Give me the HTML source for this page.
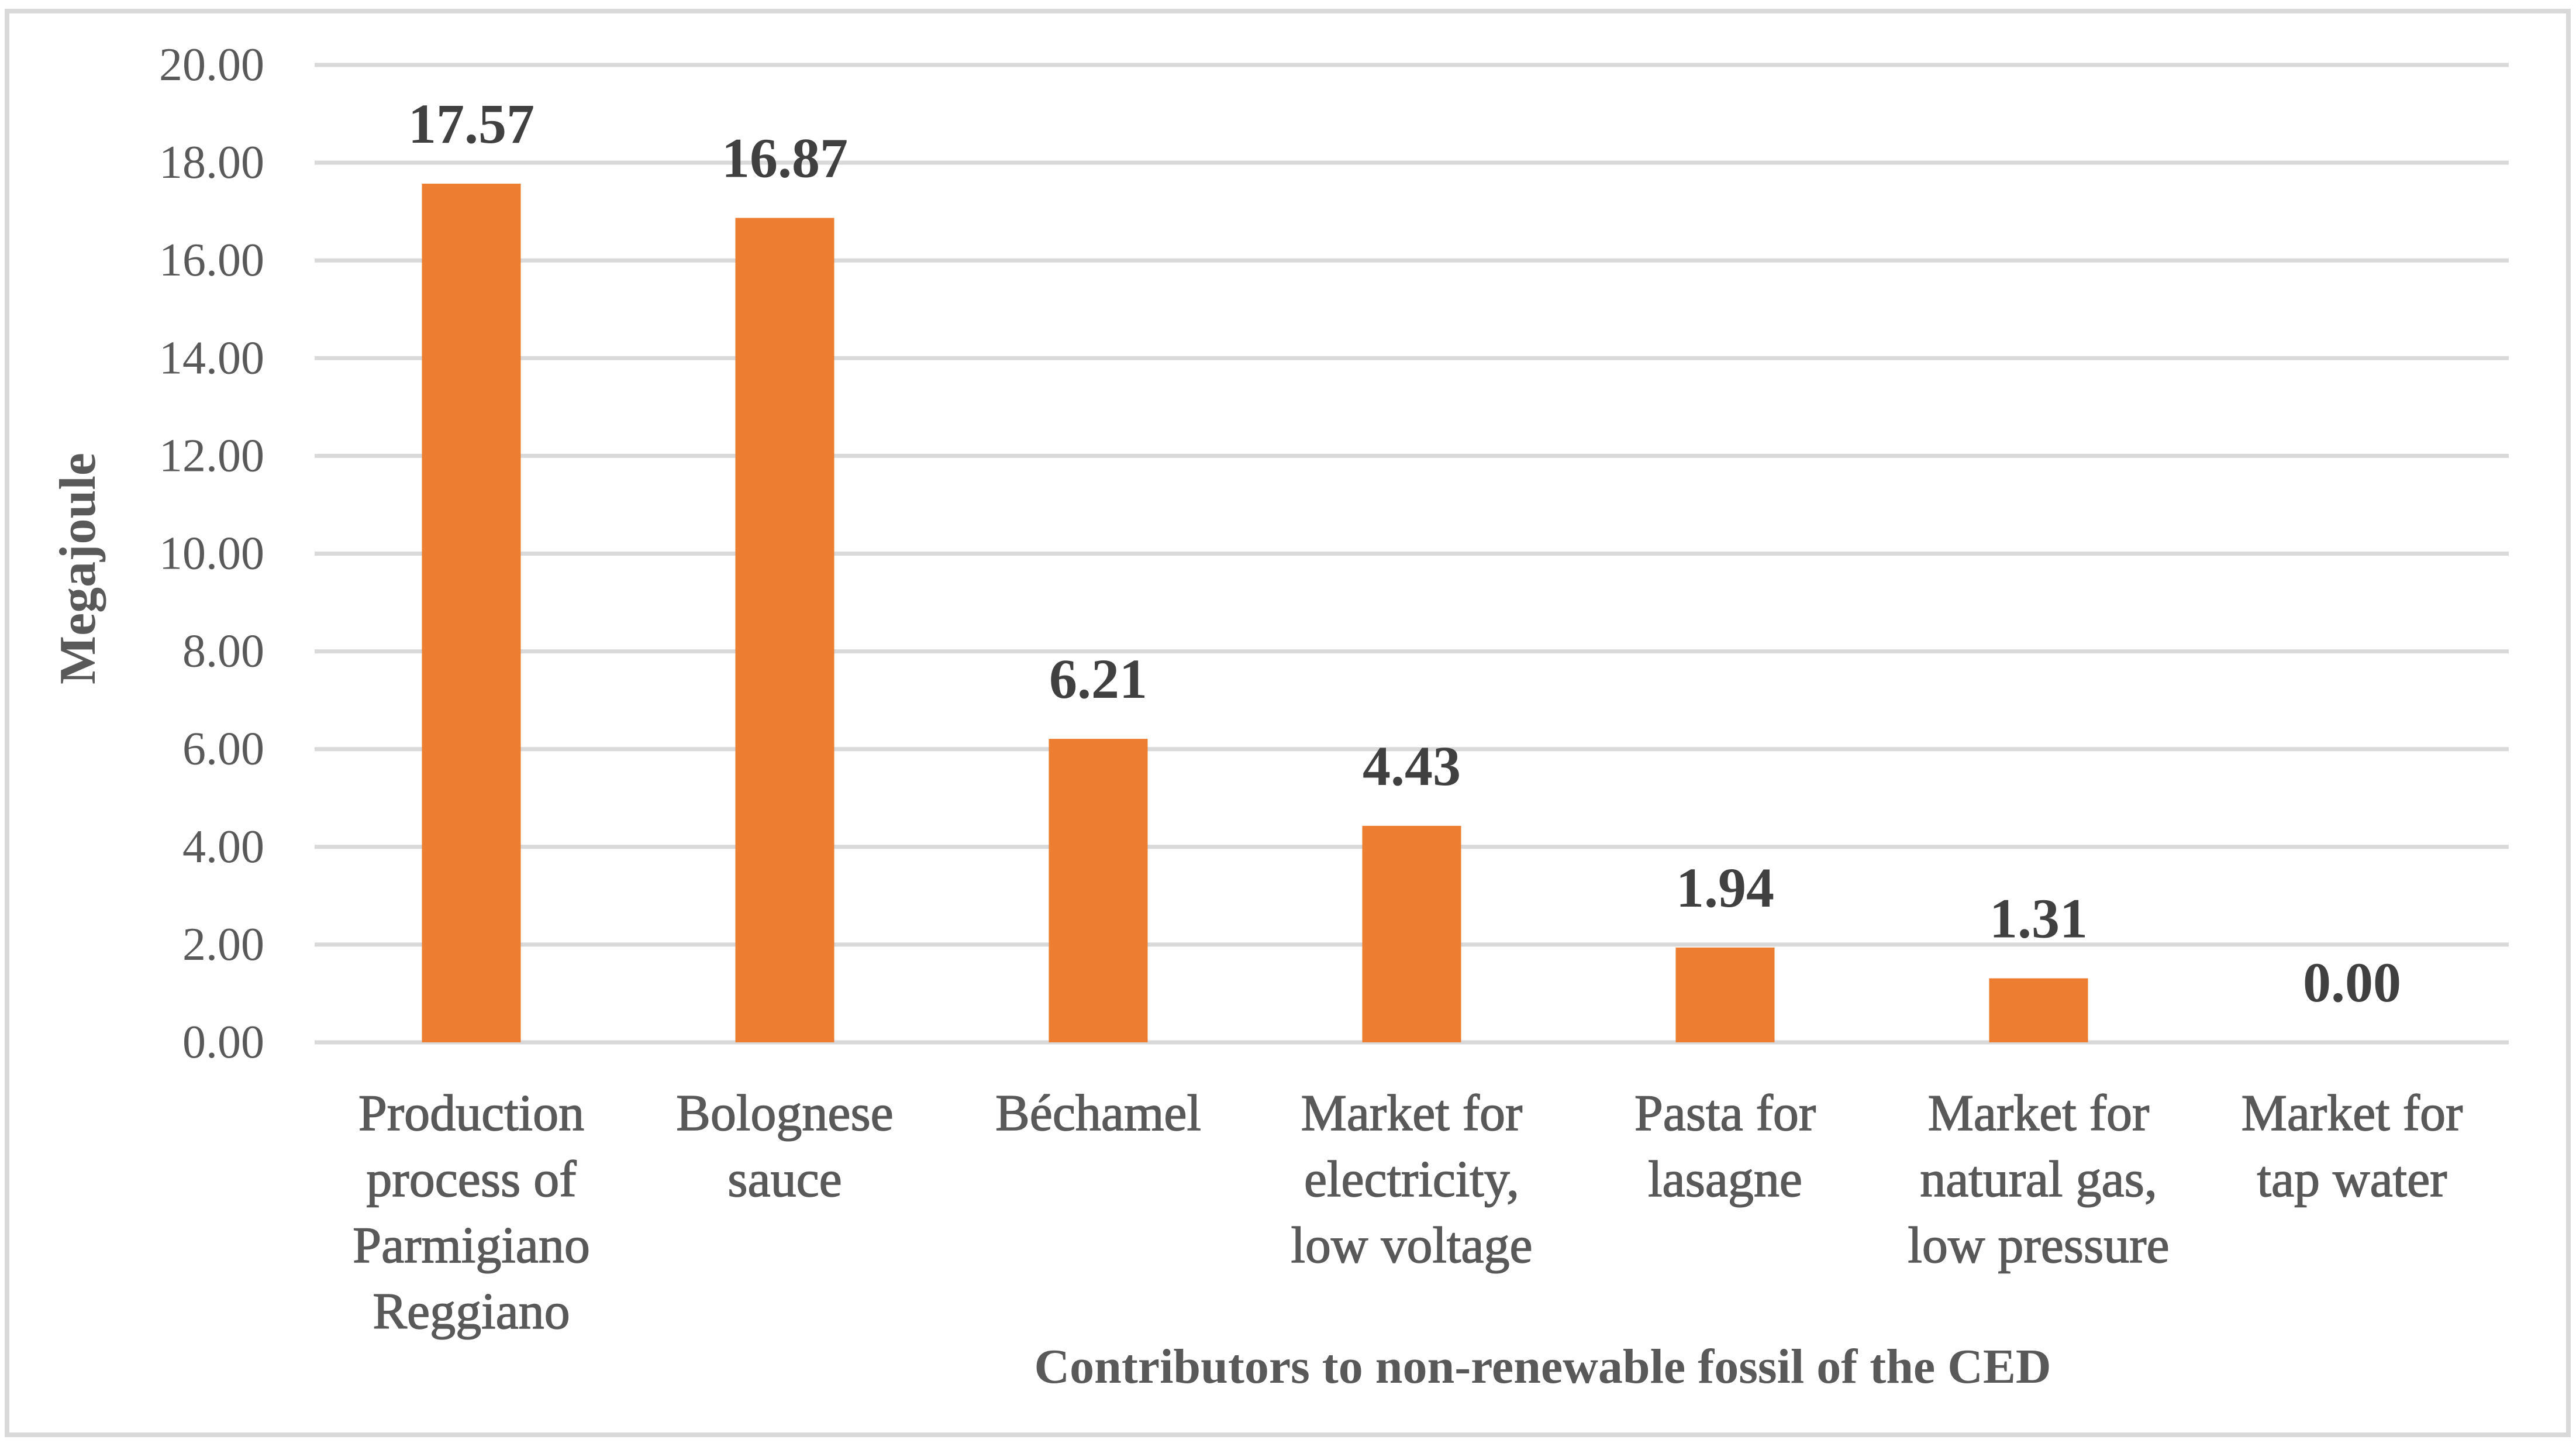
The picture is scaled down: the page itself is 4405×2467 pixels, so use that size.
<!DOCTYPE html>
<html><head><meta charset="utf-8"><style>
html,body{margin:0;padding:0;background:#fff;}
svg{display:block;font-family:"Liberation Serif",serif;}
</style></head><body>
<svg id="chart" width="4405" height="2467" viewBox="0 0 4405 2467" xmlns="http://www.w3.org/2000/svg">
<rect x="12" y="19" width="4380" height="2434" fill="#fff" stroke="#d9d9d9" stroke-width="8"/>
<g id="grid"></g><g id="bars"></g><g id="labels"></g>
<text transform="translate(162,972) rotate(-90)" text-anchor="middle" font-size="88" font-weight="bold" fill="#595959">Megajoule</text>
<text x="2638" y="2364" text-anchor="middle" font-size="84" font-weight="bold" fill="#595959">Contributors to non-renewable fossil of the CED</text>
</svg>
<script>
const categories = [
  ["Production","process of","Parmigiano","Reggiano"],
  ["Bolognese","sauce"],
  ["Béchamel"],
  ["Market for","electricity,","low voltage"],
  ["Pasta for","lasagne"],
  ["Market for","natural gas,","low pressure"],
  ["Market for","tap water"]
];
const values = [17.57, 16.87, 6.21, 4.43, 1.94, 1.31, 0.00];
const valueLabels = ["17.57","16.87","6.21","4.43","1.94","1.31","0.00"];
const yTicks = [0,2,4,6,8,10,12,14,16,18,20];

const NS="http://www.w3.org/2000/svg";
const plotL=538, plotR=4290, y0=1782, y20=111;
function yScale(v){return y0-(v/20)*(y0-y20);}
const band=(plotR-plotL)/categories.length;
function xCenter(i){return plotL+band*(i+0.5);}
const barW=169;
function mk(tag,attrs,parent){const e=document.createElementNS(NS,tag);for(const k in attrs)e.setAttribute(k,attrs[k]);parent.appendChild(e);return e;}
const grid=document.getElementById('grid'),bars=document.getElementById('bars'),labels=document.getElementById('labels');
yTicks.forEach(t=>{
  const y=yScale(t);
  const l=mk('line',{x1:plotL,x2:plotR,y1:y,y2:y,stroke:'#d9d9d9','stroke-width':7},grid);
  
  
  const tx=mk('text',{x:452,y:y+26,'text-anchor':'end','font-size':80,fill:'#595959'},grid);
  tx.textContent=t.toFixed(2);
  
  
});
values.forEach((v,i)=>{
  const cx=xCenter(i), yt=yScale(v);
  const r=mk('rect',{x:cx-barW/2,y:yt,width:barW,height:Math.max(0,y0-yt),fill:'#ed7d31'},bars);
  
  
  const vl=mk('text',{x:cx,y:yt-70,'text-anchor':'middle','font-size':96,'font-weight':'bold',fill:'#404040'},labels);
  vl.textContent=valueLabels[i];
  
  
  const cl=mk('text',{'text-anchor':'middle','font-size':88,fill:'#595959',stroke:'#595959','stroke-width':1.5},labels);
  
  
  categories[i].forEach((line,j)=>{
    const ts=mk('tspan',{x:cx,y:1932+j*113},cl);
    ts.textContent=line;
  });
});
</script>
</body></html>
